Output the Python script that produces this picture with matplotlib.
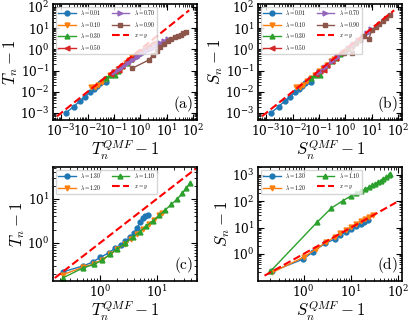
import numpy as np
import matplotlib
matplotlib.use("Agg")
import matplotlib.pyplot as plt
from matplotlib.ticker import LogLocator, NullFormatter

plt.rcParams['mathtext.fontset'] = 'cm'
plt.rcParams['font.family'] = 'serif'
plt.rcParams['font.serif'] = ['DejaVu Serif']

# ---- panel (a) : T_n - 1 vs T_n^QMF - 1, small lambda
lam_small = ['0.01', '0.10', '0.30', '0.50', '0.70', '0.90']
a_x = [
    [1.5e-3, 3e-3, 5e-3, 8e-3, 1.2e-2, 1.7e-2, 2.3e-2, 3e-2, 3.8e-2, 4.5e-2, 5.2e-2],
    [1.4e-2, 1.9e-2, 2.5e-2, 3.5e-2, 5e-2, 7e-2, 0.1, 0.14, 0.2, 0.28, 0.38, 0.5],
    [0.05, 0.07, 0.11, 0.14, 0.2, 0.3, 0.45, 0.65, 0.9, 1.3, 1.8],
    [0.08, 0.11, 0.15, 0.2, 0.3, 0.45, 0.7, 1.0, 1.5, 2.2, 3.0],
    [0.1, 0.15, 0.22, 0.33, 0.5, 0.75, 1.1, 1.7, 2.5, 3.8, 5.5, 8.0, 11.0],
    [0.5, 2.1, 3.0, 4.2, 5.7, 8.0, 11.0, 15.0, 20.0, 26.0, 33.0, 42.0, 52.0],
]
a_y = [
    [1.0e-3, 2.0e-3, 3.6e-3, 6.0e-3, 9.5e-3, 1.4e-2, 1.9e-2, 2.6e-2, 3.4e-2, 4.0e-2, 2.9e-2],
    [1.7e-2, 1.6e-2, 2.1e-2, 2.9e-2, 4.2e-2, 6e-2, 8.5e-2, 0.12, 0.17, 0.24, 0.32, 0.42],
    [0.045, 0.06, 0.062, 0.1, 0.16, 0.24, 0.36, 0.5, 0.7, 0.95, 1.3],
    [0.07, 0.1, 0.11, 0.17, 0.25, 0.36, 0.55, 0.8, 1.1, 1.5, 2.0],
    [0.09, 0.12, 0.17, 0.24, 0.33, 0.45, 0.6, 0.85, 1.1, 1.5, 2.0, 2.6, 3.2],
    [0.13, 0.32, 0.55, 0.85, 1.3, 1.8, 2.4, 3.0, 3.7, 4.4, 5.0, 5.7, 6.3],
]

# ---- panel (b) : S_n - 1 vs S_n^QMF - 1, small lambda
b_x = [
    [1.5e-3, 3e-3, 5e-3, 8e-3, 1.2e-2, 1.7e-2, 2.3e-2, 3e-2, 3.8e-2, 4.5e-2, 5.2e-2],
    [1.4e-2, 1.9e-2, 2.5e-2, 3.5e-2, 5e-2, 7e-2, 0.1, 0.14, 0.2, 0.28, 0.38, 0.5],
    [0.05, 0.07, 0.11, 0.14, 0.2, 0.3, 0.45, 0.65, 0.9, 1.3, 1.8],
    [0.08, 0.11, 0.15, 0.2, 0.3, 0.45, 0.7, 1.0, 1.5, 2.2, 3.0],
    [0.1, 0.17, 0.3, 0.5, 0.8, 1.3, 2.0, 3.0, 4.5, 6.5, 9.0],
    [0.9, 1.3, 1.8, 2.6, 3.6, 5.0, 7.6, 10.0, 14.0, 19.0, 26.0, 35.0, 48.0],
]
b_y = [
    [1.0e-3, 2.0e-3, 3.6e-3, 6.0e-3, 9.5e-3, 1.4e-2, 1.9e-2, 2.6e-2, 3.4e-2, 4.0e-2, 2.9e-2],
    [1.7e-2, 1.7e-2, 2.2e-2, 3.1e-2, 4.5e-2, 6.4e-2, 9.2e-2, 0.13, 0.19, 0.27, 0.36, 0.47],
    [0.045, 0.06, 0.062, 0.12, 0.18, 0.27, 0.41, 0.6, 0.83, 1.2, 1.7],
    [0.07, 0.1, 0.11, 0.18, 0.27, 0.41, 0.65, 0.93, 1.4, 2.1, 2.8],
    [0.09, 0.15, 0.27, 0.45, 0.72, 1.2, 1.85, 2.8, 4.2, 6.2, 8.7],
    [0.7, 1.1, 0.7, 2.0, 2.9, 4.2, 3.0, 8.0, 12.0, 16.0, 22.0, 30.0, 40.0],
]

# ---- panel (c) : T_n - 1, large lambda
lam_large = ['1.30', '1.20', '1.10']
c_x = [
    [0.22, 0.5, 0.75, 1.0, 1.45, 1.8, 2.3, 2.8, 3.4, 4.0, 4.5, 5.1, 5.7, 6.3, 7.0],
    [0.22, 0.5, 0.8, 1.1, 1.5, 2.0, 2.7, 3.5, 4.5, 5.8, 7.3, 9.0, 11.0, 12.5],
    [0.22, 0.5, 0.8, 1.1, 1.5, 2.0, 2.8, 3.8, 5.0, 6.5, 8.5, 11.0, 14.0, 18.0, 23.0, 28.0, 33.0, 38.0],
]
c_y = [
    [0.22, 0.3, 0.37, 0.47, 0.6, 0.75, 0.9, 1.1, 1.35, 1.7, 2.2, 3.0, 3.7, 4.1, 4.2],
    [0.19, 0.28, 0.34, 0.42, 0.55, 0.72, 0.95, 1.25, 1.6, 2.1, 2.7, 3.4, 4.2, 4.8],
    [0.16, 0.27, 0.33, 0.41, 0.55, 0.72, 1.0, 1.35, 1.8, 2.4, 3.2, 4.2, 5.6, 7.5, 10.0, 13.5, 17.5, 23.0],
]

# ---- panel (d) : S_n - 1, large lambda
d_x = [
    [0.22, 0.95, 1.6, 2.8, 4.5, 6.0, 8.0, 10.0, 13.0, 16.0, 19.0, 23.0],
    [0.22, 1.0, 1.8, 3.0, 4.5, 6.0, 8.0, 10.0, 13.0, 16.0, 20.0, 24.0, 29.0],
    [0.2, 1.93, 3.86, 6.7, 10.1, 13.0, 16.0, 20.0, 24.0, 28.0, 32.0, 37.0, 42.0, 48.0, 55.0, 62.0, 67.0],
]
d_y = [
    [0.22, 0.62, 1.2, 2.5, 3.6, 5.3, 7.0, 8.8, 11.5, 14.0, 16.5, 20.0],
    [0.2, 0.75, 1.5, 2.8, 4.3, 6.0, 8.0, 10.5, 14.0, 17.5, 22.0, 26.0, 31.0],
    [0.22, 16.0, 55.0, 104.0, 160.0, 200.0, 240.0, 290.0, 340.0, 400.0, 450.0, 520.0, 600.0, 700.0, 820.0, 950.0, 1100.0],
]

diag_ab = [7e-4, 70.0]
diag_c = [0.16, 48.0]
diag_d = [0.15, 90.0]

colors = ['#1f77b4', '#ff7f0e', '#2ca02c', '#d62728', '#9467bd', '#8c564b']
markers = ['o', 'v', '^', '<', '>', 's']


def style(ax, label, ylab, xlab, xt, yt):
    ax.set_xscale('log')
    ax.set_yscale('log')
    ax.set_xticks(xt)
    ax.set_yticks(yt)
    for axis in (ax.xaxis, ax.yaxis):
        axis.set_minor_locator(LogLocator(base=10, subs=np.arange(2, 10), numticks=20))
        axis.set_minor_formatter(NullFormatter())
    ax.tick_params(which='both', direction='in', top=True, right=True, labelsize=8.8)
    ax.tick_params(which='major', length=4, width=0.8, pad=2.5)
    ax.tick_params(which='minor', length=2, width=0.6)
    for s in ax.spines.values():
        s.set_linewidth(1.2)
    ax.set_ylabel(ylab, fontsize=12, labelpad=0)
    ax.set_xlabel(xlab, fontsize=12, labelpad=0)
    ax.text(0.97, 0.05, label, transform=ax.transAxes, ha='right', va='bottom', fontsize=11)
    ax.legend(loc='upper left', ncol=2, fontsize=4, handlelength=3.2, columnspacing=1.8,
              borderpad=0.4, labelspacing=0.6, frameon=True, fancybox=True)


fig = plt.figure(figsize=(4.15, 3.26), dpi=100)
axa = fig.add_axes([0.128, 0.632, 0.347, 0.356])
axb = fig.add_axes([0.622, 0.632, 0.347, 0.356])
axc = fig.add_axes([0.128, 0.138, 0.347, 0.350])
axd = fig.add_axes([0.622, 0.138, 0.347, 0.350])

for ax, xs, ys in [(axa, a_x, a_y), (axb, b_x, b_y)]:
    for i in range(6):
        ax.plot(xs[i], ys[i], marker=markers[i], color=colors[i], ms=3.5, lw=1.0,
                label=r'$\lambda=%s$' % lam_small[i])
    ax.plot(diag_ab, diag_ab, '--', color='red', lw=1.5, label=r'$x=y$')

for ax, xs, ys, dg in [(axc, c_x, c_y, diag_c), (axd, d_x, d_y, diag_d)]:
    for i in range(3):
        ax.plot(xs[i], ys[i], marker=markers[i], color=colors[i], ms=3.5, lw=1.0,
                label=r'$\lambda=%s$' % lam_large[i])
    ax.plot(dg, dg, '--', color='red', lw=1.5, label=r'$x=y$')

dec = [1e-3, 1e-2, 1e-1, 1e0, 1e1, 1e2]
style(axa, r'$\mathrm{(a)}$', r'$T_n-1$', r'$T_n^{QMF}-1$', dec, dec)
style(axb, r'$\mathrm{(b)}$', r'$S_n-1$', r'$S_n^{QMF}-1$', dec, dec)
style(axc, r'$\mathrm{(c)}$', r'$T_n-1$', r'$T_n^{QMF}-1$', [1e0, 1e1], [1e0, 1e1])
style(axd, r'$\mathrm{(d)}$', r'$S_n-1$', r'$S_n^{QMF}-1$', [1e0, 1e1, 1e2], [1e0, 1e1, 1e2, 1e3])

for ax in (axa, axb):
    ax.set_xlim(5e-4, 140)
    ax.set_ylim(4.7e-4, 140)
axc.set_xlim(0.15, 51)
axc.set_ylim(0.137, 53)
axd.set_xlim(0.11, 120)
axd.set_ylim(0.094, 2000)

fig.savefig('out.png', dpi=100)
